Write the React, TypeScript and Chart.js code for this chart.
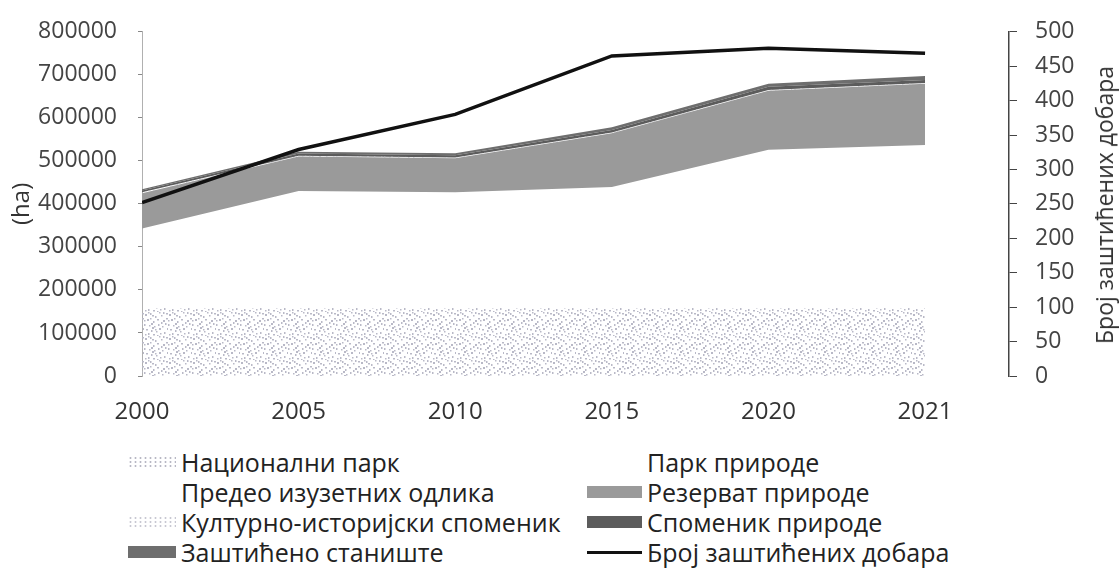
import React, { useEffect, useRef } from "react";
import { Chart, registerables } from "chart.js";

Chart.register(...registerables);

// ---- data ----
const years = ["2000", "2005", "2010", "2015", "2020", "2021"];

const nacionalniPark = [158000, 158000, 158000, 158000, 158000, 158000];
const parkPrirode = [170000, 250000, 245000, 250000, 300000, 305000];
const predeoIzuzetnihOdlika = [15000, 22000, 24000, 31000, 68000, 74000];
const rezervatPrirode = [82000, 80000, 79000, 125000, 137000, 142000];
const kulturnoIstorijskiSpomenik = [2000, 2000, 2000, 2000, 2000, 2000];
const spomenikPrirode = [4000, 5000, 5000, 6000, 7000, 7000];
const zasticenoStaniste = [3000, 4000, 5000, 6000, 7000, 9000];
const brojZasticenihDobara = [252, 329, 380, 465, 476, 469];

const seriesNames = [
  "Национални парк",
  "Парк природе",
  "Предео изузетних одлика",
  "Резерват природе",
  "Културно-историјски споменик",
  "Споменик природе",
  "Заштићено станиште",
  "Број заштићених добара",
];

const leftAxisTitle = "(ha)";
const rightAxisTitle = "Број заштићених добара";

const FONT = "'Open Sans', 'Noto Sans', sans-serif";

// fixed dot layout for a stipple texture (style only)
const stippleDots: [number, number][] = [
  [1, 2], [4, 0], [6, 1], [8, 3], [11, 4], [15, 0], [3, 7], [6, 6], [9, 9], [13, 7], [0, 12],
  [5, 13], [7, 11], [10, 14], [14, 12], [2, 17], [7, 18], [12, 19], [15, 16], [11, 17],
  [4, 21], [9, 22], [13, 23], [17, 3], [19, 8], [18, 14], [20, 20], [22, 1], [21, 11],
  [16, 21], [23, 16], [1, 22], [19, 0], [22, 6], [17, 10], [0, 8], [8, 15],
];

function makeStipple(color: string) {
  const c = document.createElement("canvas");
  c.width = 24;
  c.height = 24;
  const g = c.getContext("2d")!;
  g.fillStyle = color;
  stippleDots.forEach(([x, y], i) => {
    g.fillRect(x, y, i % 3 === 0 ? 2 : 1.5, i % 2 === 0 ? 2 : 1.5);
  });
  return g.createPattern(c, "repeat")!;
}

const legendItems = [
  { name: seriesNames[0], swatch: "stipple" },
  { name: seriesNames[1], swatch: "none" },
  { name: seriesNames[2], swatch: "none" },
  { name: seriesNames[3], swatch: "#9a9a9a" },
  { name: seriesNames[4], swatch: "stippleLight" },
  { name: seriesNames[5], swatch: "#5c5c5c" },
  { name: seriesNames[6], swatch: "#6e6e6e" },
  { name: seriesNames[7], swatch: "line" },
];

function Swatch({ kind, width }: { kind: string; width: number }) {
  const base: React.CSSProperties = { width, height: 12, marginRight: 5, flex: "none" };
  if (kind === "none") return <span style={base} />;
  if (kind === "line")
    return (
      <span style={{ ...base, display: "flex", alignItems: "center" }}>
        <span style={{ width: "100%", height: 3, background: "#111" }} />
      </span>
    );
  if (kind === "stipple" || kind === "stippleLight")
    return (
      <span
        style={{
          ...base,
          backgroundImage: `radial-gradient(${kind === "stipple" ? "#b8b8c4" : "#c8c8d2"} 0.9px, transparent 1.3px)`,
          backgroundSize: "5px 4px",
        }}
      />
    );
  return <span style={{ ...base, background: kind }} />;
}

export default function App() {
  const ref = useRef<HTMLCanvasElement>(null);

  useEffect(() => {
    const canvas = ref.current!;
    const stipple = makeStipple("#b9b9c7");
    const stippleLight = makeStipple("#cdcdd6");
    const toXY = (arr: number[]) => arr.map((y, i) => ({ x: i, y }));
    const area = (i: number, data: number[], color: any, fill: any) => ({
      type: "line" as const,
      label: seriesNames[i],
      data: toXY(data),
      backgroundColor: color,
      borderColor: "rgba(0,0,0,0)",
      borderWidth: 0,
      pointRadius: 0,
      fill,
      yAxisID: "y",
      order: 1,
      tension: 0,
    });

    const tickFont = { family: FONT, size: 23 };

    const chart = new Chart(canvas, {
      type: "line",
      data: {
        datasets: [
          area(0, nacionalniPark, stipple, "origin"),
          area(1, parkPrirode, "rgba(0,0,0,0)", "-1"),
          area(2, predeoIzuzetnihOdlika, "rgba(0,0,0,0)", "-1"),
          area(3, rezervatPrirode, "#9a9a9a", "-1"),
          area(4, kulturnoIstorijskiSpomenik, stippleLight, "-1"),
          area(5, spomenikPrirode, "#5c5c5c", "-1"),
          area(6, zasticenoStaniste, "#6e6e6e", "-1"),
          {
            type: "line",
            label: seriesNames[7],
            data: toXY(brojZasticenihDobara),
            borderColor: "#111",
            borderWidth: 3.5,
            pointRadius: 0,
            fill: false,
            yAxisID: "y1",
            order: 0,
            tension: 0,
          },
        ] as any,
      },
      options: {
        animation: false,
        responsive: false,
        maintainAspectRatio: false,
        layout: { padding: { top: 24, left: 0, right: 0, bottom: 0 } },
        plugins: { legend: { display: false }, tooltip: { enabled: false } },
        scales: {
          x: {
            type: "linear",
            min: 0,
            max: 5.536,
            grid: { display: false, drawTicks: false },
            border: { display: false },
            ticks: {
              stepSize: 1,
              includeBounds: false,
              autoSkip: false,
              maxRotation: 0,
              padding: 22,
              color: "#333",
              font: { family: FONT, size: 24 },
              callback: (v: any) => years[v as number] ?? "",
            },
            afterFit: (s: any) => {
              s.height = 64;
            },
          },
          y: {
            type: "linear",
            position: "left",
            stacked: true,
            min: 0,
            max: 800000,
            ticks: {
              stepSize: 100000,
              padding: 17,
              color: "#444",
              font: tickFont,
              callback: (v: any) => String(v),
            },
            grid: {
              drawOnChartArea: false,
              tickLength: 8,
              tickColor: "#888",
              tickBorderDash: [4, 4],
              tickBorderDashOffset: 4,
            },
            border: { display: true, color: "#b0b0b0", dash: [1, 2], width: 1 },
            title: {
              display: true,
              text: leftAxisTitle,
              color: "#333",
              font: { family: FONT, size: 24 },
              padding: { top: 8, bottom: 0 },
            },
            afterFit: (s: any) => {
              s.width = 142;
            },
          },
          y1: {
            type: "linear",
            position: "right",
            min: 0,
            max: 500,
            ticks: {
              stepSize: 50,
              padding: 18,
              color: "#444",
              font: tickFont,
            },
            grid: { drawOnChartArea: false, tickLength: 8, tickColor: "#444" },
            border: { display: true, color: "#444", width: 1.5 },
            afterFit: (s: any) => {
              s.width = 111;
            },
          },
        },
      } as any,
    });
    return () => chart.destroy();
  }, []);

  const rows = [0, 1, 2, 3];
  return (
    <div
      style={{
        position: "fixed",
        left: 0,
        top: 0,
        width: 1120,
        height: 580,
        background: "#fff",
        fontFamily: FONT,
        color: "#222",
        overflow: "hidden",
      }}
    >
      <canvas ref={ref} width={1120} height={440} style={{ position: "absolute", left: 0, top: 0 }} />
      <div
        style={{
          position: "absolute",
          left: 1104,
          top: 205,
          transform: "translate(-50%, -50%) rotate(-90deg)",
          whiteSpace: "nowrap",
          fontSize: 23,
          color: "#333",
        }}
      >
        {rightAxisTitle}
      </div>
      {rows.map((r) =>
        [0, 1].map((c) => {
          const item = legendItems[r * 2 + c];
          return (
            <div
              key={`${r}-${c}`}
              style={{
                position: "absolute",
                left: c === 0 ? 128 : 587,
                top: 447 + r * 30,
                height: 30,
                display: "flex",
                alignItems: "center",
                fontSize: 25,
                whiteSpace: "nowrap",
              }}
            >
              <Swatch kind={item.swatch} width={c === 0 ? 48 : 55} />
              <span>{item.name}</span>
            </div>
          );
        })
      )}
    </div>
  );
}
